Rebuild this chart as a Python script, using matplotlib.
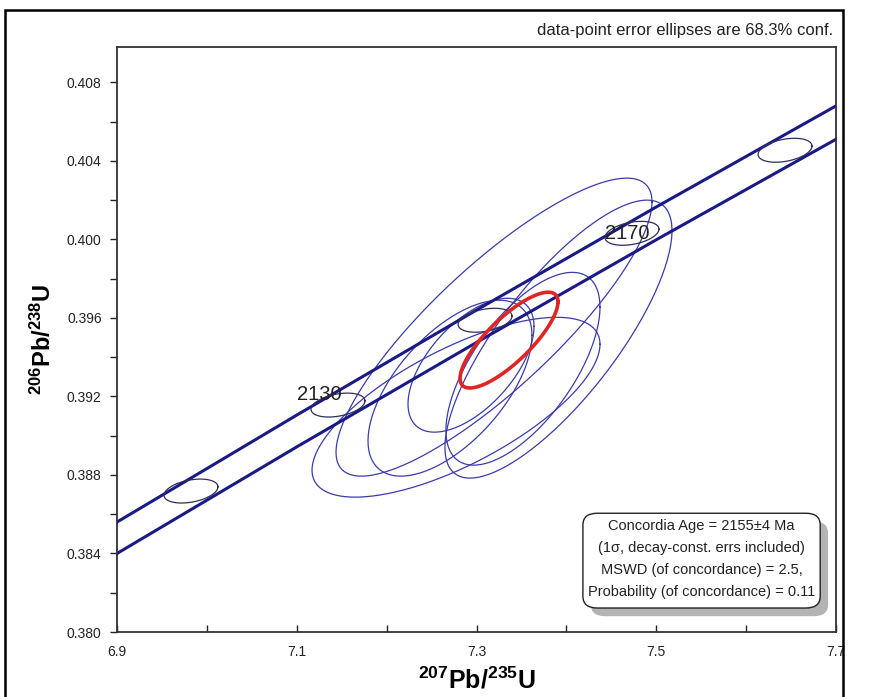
import matplotlib
matplotlib.use("Agg")
import matplotlib.pyplot as plt
import numpy as np
from matplotlib.patches import FancyBboxPatch, Rectangle
from matplotlib.ticker import FixedLocator, FormatStrFormatter

plt.rcParams['font.family'] = ['Liberation Sans', 'DejaVu Sans']
plt.rcParams['mathtext.fontset'] = 'custom'
plt.rcParams['mathtext.rm'] = 'Liberation Sans'
plt.rcParams['mathtext.bf'] = 'Liberation Sans:bold'

# concordia band (decay-constant envelope)
band_x = [6.9, 7.1, 7.3, 7.5, 7.7]
band_upper = [0.3856, 0.39105, 0.3964, 0.40165, 0.4068]
band_lower = [0.3840, 0.38943, 0.39475, 0.39998, 0.4051]

# age marks on concordia (Ma)
age_marks = [2110, 2130, 2150, 2170, 2190]
age_x = [6.9823, 7.1459, 7.3095, 7.4730, 7.6433]
age_y = [0.38718, 0.39156, 0.39588, 0.40031, 0.40454]
age_labels = ['', '2130', '', '2170', '']
age_dx = 0.030
age_dy = 0.00061
age_rho = 0.35

# data-point error ellipses: centre, half-widths, error correlation
pt_x = [7.2772, 7.3195, 7.2705, 7.3517, 7.2939, 7.3912]
pt_dx = [0.1602, 0.1758, 0.0912, 0.0857, 0.0701, 0.1263]
pt_y = [0.39145, 0.39553, 0.39242, 0.39341, 0.39359, 0.39492]
pt_dy = [0.00458, 0.00759, 0.00448, 0.00491, 0.00341, 0.00708]
pt_rho = [0.70, 0.84, 0.60, 0.64, 0.58, 0.78]

# concordia age ellipse
conc_x, conc_dx = 7.3362, 0.0545
conc_y, conc_dy = 0.39487, 0.00244
conc_rho = 0.80

x_major = [6.9, 7.1, 7.3, 7.5, 7.7]
x_minor = [7.0, 7.2, 7.4, 7.6]
y_major = [0.380, 0.384, 0.388, 0.392, 0.396, 0.400, 0.404, 0.408]
y_minor = [0.382, 0.386, 0.390, 0.394, 0.398, 0.402, 0.406]

info_lines = ["Concordia Age = 2155\u00b14 Ma",
              "(1\u03c3, decay-const. errs included)",
              "MSWD (of concordance) = 2.5,",
              "Probability (of concordance) = 0.11"]


def ellipse_xy(cx, cy, dx, dy, rho, n=300):
    t = np.linspace(0, 2 * np.pi, n)
    x = cx + dx * np.cos(t)
    y = cy + dy * (rho * np.cos(t) + np.sqrt(1 - rho ** 2) * np.sin(t))
    return x, y


fig = plt.figure(figsize=(8.81, 6.97), dpi=100)
ax = fig.add_axes([117 / 881, 1 - 632 / 697, 719 / 881, 585 / 697])

for cx, cy, dx, dy, r in zip(pt_x, pt_y, pt_dx, pt_dy, pt_rho):
    ex, ey = ellipse_xy(cx, cy, dx, dy, r)
    ax.plot(ex, ey, color='#3b3bab', lw=0.9, zorder=2)

ax.plot(band_x, band_upper, color='#1a1a86', lw=2.2, zorder=3)
ax.plot(band_x, band_lower, color='#1a1a86', lw=2.2, zorder=3)

for cx, cy, lab in zip(age_x, age_y, age_labels):
    ex, ey = ellipse_xy(cx, cy, age_dx, age_dy, age_rho)
    ax.plot(ex, ey, color='#2e2e5e', lw=0.9, zorder=4)

ax.text(age_x[1] - 0.021, age_y[1] + 0.00052, age_labels[1], fontsize=14.5,
        color='#222222', ha='center', va='center', zorder=5)
ax.text(age_x[3] - 0.005, age_y[3] - 0.00001, age_labels[3], fontsize=14.5,
        color='#222222', ha='center', va='center', zorder=5)

ex, ey = ellipse_xy(conc_x, conc_y, conc_dx, conc_dy, conc_rho)
ax.plot(ex, ey, color='#e02525', lw=2.6, zorder=6)

ax.set_xlim(6.9, 7.7)
ax.set_ylim(0.380, 0.4098)
ax.xaxis.set_major_locator(FixedLocator(x_major))
ax.xaxis.set_minor_locator(FixedLocator(x_minor))
ax.yaxis.set_major_locator(FixedLocator(y_major))
ax.yaxis.set_minor_locator(FixedLocator(y_minor))
ax.xaxis.set_major_formatter(FormatStrFormatter('%.1f'))
ax.yaxis.set_major_formatter(FormatStrFormatter('%.3f'))
ax.tick_params(axis='x', which='both', direction='in', length=5, width=1,
               labelsize=10, pad=9, colors='#222222')
ax.tick_params(axis='y', which='both', direction='out', length=5, width=1,
               labelsize=10, pad=6, colors='#222222')
for s in ax.spines.values():
    s.set_linewidth(1.3)
    s.set_color('#333333')

ax.set_xlabel(r'$\mathbf{^{207}Pb/^{235}U}$', fontsize=18, labelpad=6)
ax.set_ylabel(r'$\mathbf{^{206}Pb/^{238}U}$', fontsize=17, labelpad=8)

# info box with drop shadow
bx0, by0, bw, bh = 0.648, 0.041, 0.330, 0.162
shadow = FancyBboxPatch((bx0 + 0.011, by0 - 0.014), bw, bh,
                        boxstyle="round,pad=0,rounding_size=0.02",
                        transform=ax.transAxes, facecolor='#b3b3b3',
                        edgecolor='none', zorder=7)
box = FancyBboxPatch((bx0, by0), bw, bh,
                     boxstyle="round,pad=0,rounding_size=0.02",
                     transform=ax.transAxes, facecolor='white',
                     edgecolor='#222222', lw=1.0, zorder=8)
ax.add_patch(shadow)
ax.add_patch(box)
for i, line in enumerate(info_lines):
    ax.text(bx0 + bw / 2, by0 + bh - 0.022 - i * 0.0375, line, fontsize=10.5,
            ha='center', va='center', transform=ax.transAxes, zorder=9,
            color='#222222')

fig.text(833 / 881, 1 - 31 / 697, "data-point error ellipses are 68.3% conf.",
         fontsize=12, ha='right', va='center', color='#222222')

fig.add_artist(Rectangle((5 / 881, -0.02), 838 / 881, 1.02 - 10 / 697,
                         transform=fig.transFigure, fill=False,
                         edgecolor='black', lw=1.8))

fig.savefig('out.png', dpi=100)
